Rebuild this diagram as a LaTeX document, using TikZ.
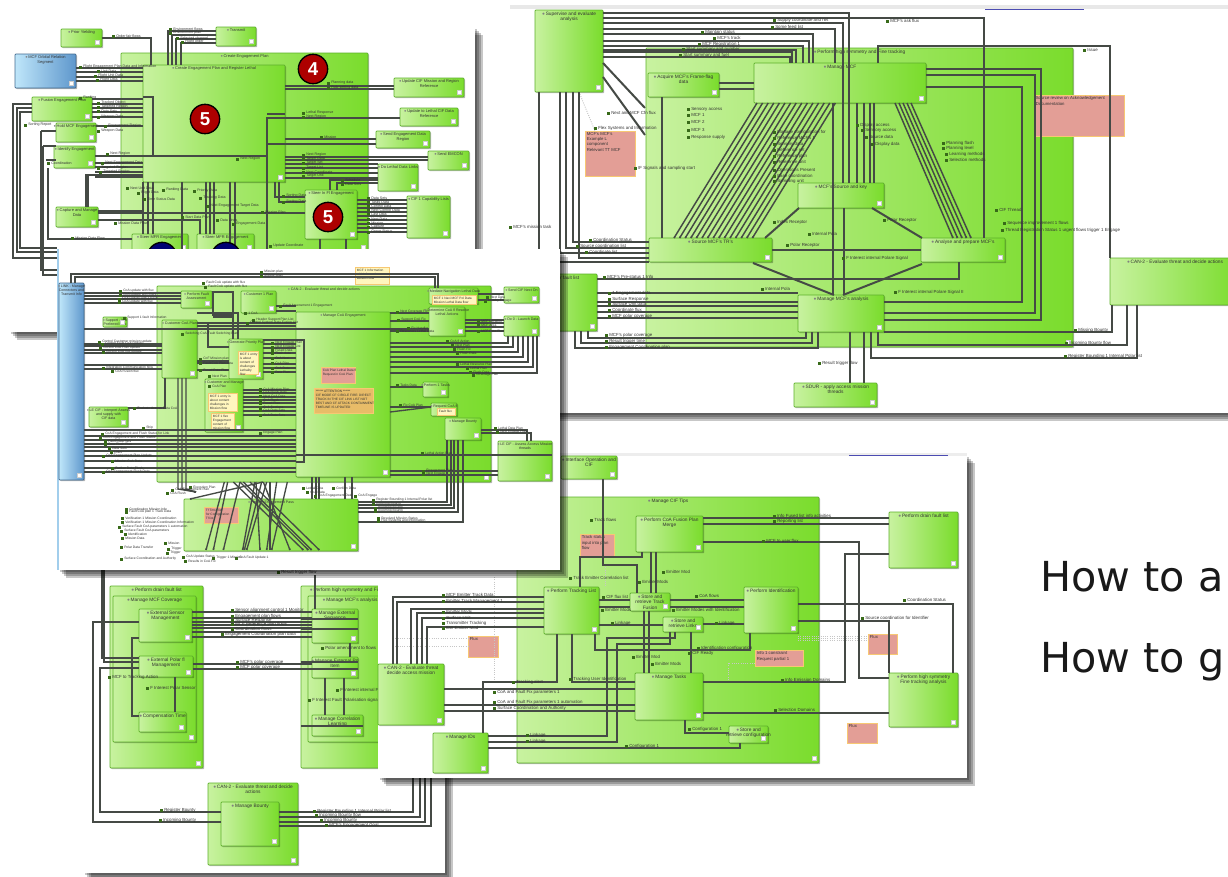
\documentclass[tikz,border=0pt]{standalone}
\usepackage{fontspec}
\setmainfont{Liberation Sans}
\newfontfamily\slidefont{DejaVu Sans}
\usetikzlibrary{arrows.meta,shadows,shapes.misc}
\definecolor{gdark}{HTML}{7ADC2C}
\definecolor{glight}{HTML}{C8F2A0}
\definecolor{gedge}{HTML}{5DB02A}
\definecolor{wirec}{HTML}{454A45}
\definecolor{notepink}{HTML}{E39E96}
\definecolor{noteedge}{HTML}{F7C873}
\definecolor{noteyel}{HTML}{FFF6BE}
\definecolor{noteorg}{HTML}{E8BC68}
\definecolor{bluel}{HTML}{BFE6FA}
\definecolor{blued}{HTML}{5E97CC}
\newcommand{\sheet}[5]{%
  \foreach \s in {2,4,6,8} \fill[black,opacity=.22] (#2+\s,#3+\s) rectangle (#4+\s,#5+\s);
  \node[sheetbg,minimum width={(#4-#2)*.75pt},minimum height={(#5-#3)*.75pt}] (#1) at (#2,#3) {};}
\newcommand{\gbox}[7][gbx]{%
  \node[#1,minimum width={(#5-#3)*.75pt},minimum height={(#6-#4)*.75pt},
    label={[ttl,anchor=north]north:{{\color{gray}●}\,#7}}] (#2) at (#3,#4) {};
  \fill[white,draw=gray!40,line width=.2pt] ([shift={(-7,-7)}]#2.south east) rectangle +(4,4);}
\newcommand{\gnote}[7][ntp]{%
  \node[#1,minimum width={(#5-#3)*.75pt},minimum height={(#6-#4)*.75pt},
    label={[ntt,anchor=north west]north west:{#7}}] (#2) at (#3,#4) {};}
\newcommand{\hw}[4][wire]{\foreach \y in {#4} \draw[#1] (#2.east|-0,\y) -- (#3.west|-0,\y);}
\newcommand{\vw}[4][wire]{\foreach \x in {#4} \draw[#1] (\x,0|-#2.south) -- (\x,0|-#3.north);}
\newcommand{\wlabs}[2]{\foreach \x/\y/\txt [count=\n] in {#2} {%
  \fill[gedge!60!black] (\x-1.5,\y-1.5) rectangle (\x+1.5,\y+1.5);
  \node[wlab] (#1\n) at (\x+3,\y) {\txt};}}
\begin{document}
\begin{tikzpicture}[x=.75pt,y=-.75pt,
  sheetbg/.style={anchor=north west,fill=white,inner sep=0pt,outer sep=0pt},
  gbx/.style={anchor=north west,inner sep=0pt,outer sep=0pt,left color=glight,right color=gdark,draw=gedge,line width=.5pt,rounded corners=.6pt,
    drop shadow={shadow xshift=.9pt,shadow yshift=-.9pt,fill=black,opacity=.28}},
  blu/.style={gbx,left color=bluel,right color=blued,draw=blued!70!black},
  ntp/.style={anchor=north west,inner sep=0pt,outer sep=0pt,chamfered rectangle,chamfered rectangle corners=north east,chamfered rectangle xsep=2.5pt,chamfered rectangle ysep=2.5pt,fill=notepink,draw=noteedge,line width=.7pt},
  nty/.style={ntp,fill=noteyel},
  nto/.style={ntp,fill=noteorg},
  ttl/.style={font=\fontsize{3.6}{4.2}\selectfont,text=black!80,inner sep=1.2pt,align=center},
  ntt/.style={font=\fontsize{3.2}{3.8}\selectfont,text=black!80,inner sep=1.2pt,align=left},
  wlab/.style={anchor=west,font=\fontsize{3.3}{3.8}\selectfont,text=black!80,inner sep=0pt},
  wire/.style={line width=1.5pt,draw=wirec,-{Square[length=1.3pt,width=1.3pt]}},
  thn/.style={wire,line width=.8pt},
  dot/.style={draw=gray!45,line width=.7pt,densely dotted},
  redc/.style={circle,fill=red!68!black,draw=black,line width=1pt,text=white,font=\bfseries\fontsize{14}{14}\selectfont,minimum size=22pt,inner sep=0pt},
  bluc/.style={circle,fill=blue!45!black,draw=black,line width=1pt,minimum size=22pt,inner sep=0pt},
  slide/.style={anchor=base west,font=\slidefont\fontsize{31}{31}\selectfont,text=black!90,inner sep=0pt}]
\useasboundingbox (0,0) rectangle (1228,876);
% upper right sheet
\sheet{rp}{510}{5}{1240}{413}
\fill[gray!18] (510,5) rectangle (1228,9);
\draw[blue!40!gray,line width=.6pt] (985,9) -- (1084,9);
\gbox{rcon}{646}{48}{1073}{347}{Perform high symmetry and Fine tracking}
\gbox{rsup}{535}{10}{603}{92}{Supervise and evaluate\\analysis}
\gbox{racq}{648}{73}{719}{97}{Acquire MCF's Frame-flag\\data}
\gbox{rman}{754}{63}{926}{103}{Manage MCF}
\gbox{rcen}{798}{183}{884}{208}{MCF's Source and key}
\gbox{rsrc}{649}{238}{772}{262}{Source MCF's TR's}
\gbox{rana}{921}{238}{1005}{262}{Analyse and prepare MCF's}
\gbox{rbot}{798}{295}{884}{332}{Manage MCF's analysis}
\gbox{rcan}{1110}{258}{1240}{305}{CAN-2 - Evaluate threat and decide actions}
\gbox{rapp}{794}{383}{877}{407}{SDUR - apply access mission\\threads}
\gbox{rpri}{530}{274}{597}{331}{Prior fault list}
\gnote{rnl}{585}{131}{635}{176}{MCF's MCF's\\Example L\\component\\Relevant TT MCF}
\gnote{rnr}{1034}{95}{1124}{136}{Source review on Acknowledgement\\Documentation}
\draw[dot] (rsup.south-|579,0) -- (rnl.north-|595,0);
\draw[wire] (rsup.east|-0,13) -| (849,0|-rcen.north);
\draw[wire] (rsup.east|-0,18) -| (984,0|-rana.north);
\draw[wire] (rsup.east|-0,23) -| (843,0|-rcen.north);
\foreach \y/\x in {29/835,34/813,41/809,46/803,50/796,52/792,57/790} \draw[wire] (rsup.east|-0,\y) -| (\x,0|-rman.north);
\draw[wire] (rsup.east|-0,63) -- (645,108);
\draw[wire] (rsup.east|-0,77) -- (645,135);
\draw[wire] (878,0|-rman.north) |- (0,46-|rcan.west) -- (rcan.north west);
\foreach \y/\x/\b in {69/1041/320,75/1035/313,87/1022/302} \draw[wire] (rman.east|-0,\y) -| (\x,\b) -- (rbot.east|-0,\b);
\hw{racq}{rman}{83,89}
\vw{racq}{rsrc}{662}
\foreach \i in {0,...,14} \draw[wire,line width=1.1pt] (757+\i*5.6,103) -- (674+\i*5.6,238);
\foreach \i in {0,...,4} \draw[wire,line width=1.1pt] (895+\i*4,103) -- (953+\i*4.5,238);
\vw{rman}{rcen}{857,864,870,874}
\draw[wire] (rcen.south-|799,0) -- (765,238);
\draw[wire] (rcen.south-|872,0) -- (922,238);
\hw{rsrc}{rana}{250}
\draw[wire] (753,263) -- (834,295);
\draw[wire] (922,264) -- (843,295);
\vw{rman}{rbot}{833}
\vw{rcen}{rbot}{844}
\draw[wire] (959,0|-rana.south) |- (rpri.east|-0,279);
\hw{rpri}{rbot}{302,306,312,318}
\draw[wire] (rpri.east|-0,293) -- (798,293);
\foreach \x/\y/\b in {806/338/588,812/343/581,818/348/575} \draw[wire] (\x,0|-rbot.south) |- (\b,\y) -- (\b,0|-rpri.south);
\draw[wire] (rbot.east|-0,332) -| (1112,0|-rcan.south);
\draw[wire] (878,332) |- (1127,345) -- (1127,0|-rcan.south);
\draw[wire] (871,332) |- (1137,358) -- (1137,0|-rcan.south);
\vw{rbot}{rapp}{850,864}
\foreach \x/\y in {573/242,566/248,560/253,579/258,539/262} \draw[wire] (\x,0|-rsup.south) |- (rsrc.west|-0,\y);
\wlabs{ra}{774/20/Supply coordinate and net,772/27/Some feed list,702/32/Maintain status,714/38/MCF's track,699/44/MCF Registration 1,683/49/Start summary and number,680/55/Start summary and fuel,887/21/MCF's ask flux,1084/50/Issue}
\wlabs{rb}{688/109/Sensory access,688/115/MCF 1,688/122/MCF 2,688/130/MCF 3,688/137/Response supply,608/113/Next and MCF Cfn flux,595/128/Flex Systems and Information,635/168/IF Signals and sampling start}
\wlabs{rc}{774/132/Manage configuration for,774/138/Reference MCF's 1,774/144/Sensory data,774/150/Reference set,774/156/Reference plan,774/162/Reference unit,774/170/Operations Present,774/176/Base coordination,774/181/Sampling unit}
\wlabs{rd}{857/125/Display access,862/130/Sensory access,866/137/Source data,872/144/Display data,943/143/Planning flash,943/148/Planning level,946/154/Learning methods,946/160/Selection methods}
\wlabs{re}{996/210/CIF Thread,1004/223/Sequence improvement 1 flows,1002/230/Thread Registration Status 1 urgent flows trigger 1 Engage,774/222/Index Receptor,809/234/Internal Pola,884/220/Polar Receptor,787/245/Polar Receptor,843/258/F Interest internal Polare Signal,762/289/Internal Pola,895/292/F Interest internal Polare Signal II}
\wlabs{rf}{510/227/MCF's mission task,590/240/Coordination Status,577/246/Source coordination list,586/252/Coordinate list,604/277/MCF's Pre-status 1 Info,609/293/1 Engagement data,609/299/Surface Response,609/304/Surface Unit data,609/310/Coordinate flux,609/316/MCF polar coverage,606/335/MCF's polar coverage,606/341/Result trigger time,606/347/Engagement Coordination plan,1075/330/Missing Bounty,1066/343/Incoming Bounty flow,1065/356/Register Bounding 1 Internal Polar list,819/363/Result trigger flow}
% lower left sheet
\sheet{blp}{83}{570}{445}{873}
\gbox{bout}{110}{586}{203}{768}{Perform drain fault list}
\gbox{binn}{113}{596}{196}{742}{Manage MCF Coverage}
\gbox{bext}{139}{609}{192}{642}{External Sensor\\Management}
\gbox{bpol}{139}{656}{193}{677}{External Polar fl\\Management}
\gbox{bcmp}{139}{712}{186}{732}{Compensation Time}
\gbox{cout}{301}{586}{392}{768}{Perform high symmetry and Fine}
\gbox{cinn}{308}{596}{392}{742}{Manage MCF's analysis}
\gbox{cext}{312}{609}{358}{643}{Manage External\\Sequence}
\gbox{cpol}{312}{657}{358}{678}{Manage External Po\\Item}
\gbox{ccmp}{312}{715}{363}{736}{Manage Correlation\\Learning}
\gbox{bcan}{208}{783}{298}{865}{CAN-2 - Evaluate threat and decide\\actions}
\gbox{bman}{221}{802}{279}{846}{Manage Bounty}
\begin{scope}[wire/.append style={line width=1.2pt}]
\hw{bext}{cext}{612,618,622,625,628,632,637}
\hw{bpol}{cpol}{664,669}
\draw[wire] (bcmp.west|-0,716) -| (132,638) -- (bext.west|-0,638);
\vw{bpol}{bcmp}{175}
\draw[wire] (bman.west|-0,822) -| (93,622) -- (bext.west|-0,622);
\draw[wire] (bman.west|-0,812) -| (100,668) -- (bpol.west|-0,668);
\draw[wire] (102,570) |- (bpol.west|-0,658);
\draw[wire] (104,570) |- (bpol.west|-0,662);
\vw{cpol}{ccmp}{325,344}
\draw[wire] (315,575) -- (315,0|-cext.north);
\vw{cext}{cpol}{350}
\foreach \y/\x in {812/413,817/420,822/425,826/431} \draw[wire] (bman.east|-0,\y) -| (\x,777);
\hw{ccmp}{cout}{726}
\hw{cext}{cout}{619,629}
\hw{cpol}{cout}{662,669}
\end{scope}
\wlabs{ba}{232/610/Sensor alignment control 1 Monitor,232/616/Engagement plan flows,232/620/Surface Response,232/624/MCF Reference plan flows,232/629/Coordination flows,222/634/Engagement Coordination plan data,237/662/MCF's polar coverage,237/667/MCF polar coverage,322/648/Polar amendment to flows,337/690/F Interest internal Polar,309/700/F Interest Fault Polarisation signal,147/688/F Interest Polar Sensor,109/677/MCF to Tracking Action}
\wlabs{bb}{161/810/Register Bounty,160/820/Incoming Bounty,314/811/Register Bounding 1 Internal Polar list,316/815/Incoming Bounty flow,321/820/Incoming Bounty,326/825/MCF's Engagement Goal,278/572/Result trigger flow}
% upper left sheet
\sheet{tlp}{9}{27}{475}{332}
\begin{scope}[ttl/.append style={font=\fontsize{3}{3.5}\selectfont},wlab/.append style={font=\fontsize{2.7}{3.1}\selectfont},wire/.append style={line width=1pt}]
\gbox{tcon}{121}{53}{368}{252}{Create Engagement Plan}
\gbox{tord}{61}{29}{102}{47}{Prior Yielding}
\gbox{ttra}{216}{27}{256}{46}{Transmit}
\gbox[blu]{tblu}{15}{54}{76}{88}{MCF Orbital Relation\\Segment}
\gbox{tbig}{143}{65}{285}{182}{Create Engagement Plan and Register Lethal}
\gbox{tfus}{32}{97}{92}{121}{Fusion Engagement Plan}
\gbox{tsel}{56}{123}{96}{142}{Hold MCF Engagement}
\gbox{tmod}{54}{146}{95}{168}{Identify Engagement}
\gbox{tcap}{56}{207}{98}{227}{Capture and Manage\\Data}
\gbox{twa}{132}{234}{188}{252}{Steer MFR Engagement}
\gbox{twb}{197}{234}{254}{252}{Steer MFR Engagement}
\gbox{tmis}{305}{190}{357}{239}{Steer In Fl Engagement}
\gbox{tra}{394}{78}{464}{97}{Update CIF Mission and Region\\Reference}
\gbox{trb}{400}{108}{458}{126}{Update to Lethal CIF Data\\Reference}
\gbox{trc}{376}{131}{430}{148}{Send Engagement Data\\Region}
\gbox{trd}{428}{151}{469}{170}{Send EMCON}
\gbox{tre}{378}{164}{418}{191}{Do Lethal Data Links}
\gbox{trf}{407}{196}{450}{238}{CIF 1 Capability Lists}
\draw[wire] (tord.east|-0,38) -| (151,0|-tbig.north);
\foreach \y/\x in {31/168,35/172,39/176,43/181} \draw[wire] (ttra.west|-0,\y) -| (\x,0|-tbig.north);
\hw[thn]{tblu}{tbig}{68,72,77,81}
\hw[thn]{tfus}{tbig}{99,104,108,112,117}
\hw[thn]{tsel}{tbig}{126}
\foreach \y/\x/\b in {104/13/258,108/17/252,112/20/248} \draw[thn] (tfus.west|-0,\y) -| (\x,\b) -- (57,\b);
\foreach \x/\y in {41/131,43/146,46/160} \draw[thn] (\x,\y) |- (tsel.west|-0,\y);
\draw[thn] (41,131) -- (41,270) -- (60,270);
\draw[thn] (43,146) -- (43,275) -- (60,275);
\draw[wire] (tmod.east|-0,156) -- (267,156) -- (267,252);
\draw[wire] (267,156) |- (trb.west|-0,118);
\draw[thn] (267,144) -- (trc.west|-0,144);
\draw[thn] (tbig.east|-0,114) -- (267,114);
\hw[thn]{tmod}{tbig}{163,167,172,177}
\draw[thn] (143,97) -| (153,156);
\hw[thn]{tbig}{tra}{86,89}
\hw[thn]{tbig}{trc}{139}
\hw[thn]{tbig}{trd}{157,160}
\hw[thn]{tbig}{tre}{164,168,173,178}
\vw[thn]{tbig}{twa}{143,148,153}
\vw[thn]{tbig}{twb}{206,210,214}
\draw[thn] (182,0|-tbig.south) -- (182,252);
\foreach \x in {230,235} \draw[thn] (\x,0|-tbig.south) -- (\x,252);
\hw[thn]{tcap}{tbig}{211}
\hw[thn]{tcap}{tmis}{213}
\draw[thn] (tcap.east|-0,220) -| (200,0|-twb.north);
\foreach \x/\y in {88/207,86/207} \draw[thn] (\x,\y) -- (\x,175) -- (143,175);
\draw[thn] (48,168) |- (twa.west|-0,239);
\hw[thn]{tmis}{trf}{200,204,208,212,216,220,224,228,232}
\draw[thn] (330,0|-tmis.north) |- (tre.west|-0,180);
\draw[thn] (337,0|-tmis.north) |- (tre.west|-0,183);
\draw[thn] (275,182) |- (tmis.west|-0,197);
\draw[thn] (279,182) |- (tmis.west|-0,202);
\foreach \x in {320,346} \draw[thn] (\x,0|-tmis.south) -- (\x,252);
\node[redc] (red4) at (313,69) {4};
\node[redc] (red5a) at (205,119) {5};
\node[redc] (red5b) at (328,217) {5};
\node[bluc] (blua) at (162,257) {};
\node[bluc] (blub) at (226,257) {};
\wlabs{ta}{113/36/Order fair flows,170/29/Environment flows,170/33/Environment plan,177/38/Selected channel,182/42/Flight order,80/67/Flight Engagement Plan Data and Information,98/71/Unit Data,95/76/Flight Unit Data,97/80/Flight Data,80/98/Ranking,98/103/Tracked Object,98/107/Targeted Region,98/111/Data Sets,98/117/Weapon Data,25/125/Sorting Report,105/126/Engagement Region,98/131/Weapon Data,107/154/Next Region,48/163/Coordination,102/163/Next Engagement Data,98/168/Targeted Region,100/172/Targeted Region}
\wlabs{tb}{328/83/Planning data,328/88/Rule setting data,303/113/Lethal Response,303/117/Next Region,321/137/Mission,303/155/Next Region,303/159/Target Data,303/163/Target Set,303/168/Target List,303/172/Next Coordinate,303/176/Target Unit,237/159/Next Region,342/180/Schedule,342/184/Data Sets,283/196/Sorting Data,283/202/Sorting Data,262/212/Mission Plan}
\wlabs{tc}{368/198/Data Sets,368/202/Tasks Data,368/206/Control Data,368/210/Next Control Data,368/214/Last Data,368/219/Next Data,368/223/Mission,368/227/Capture,368/232/Group Status,127/188/Next Unit Data,138/193/Flight Data,144/199/Time Status Data,163/190/Ranking Data,194/191/Priority Data,200/198/Tracking Data,207/206/Next Engagement Target Data,182/217/Start Data Plan,217/220/Data Lines,233/224/Engagement Data,115/223/Mission Data Flow,72/238/Mission Data Flow,270/246/Update Coordinate}
\end{scope}
% lower right sheet
\sheet{brp}{378}{455}{967}{778}
\fill[gray!14] (378,453) rectangle (967,456);
\draw[blue!40!gray,line width=.6pt] (849,455) -- (948,455);
\gbox{bint}{561}{456}{617}{479}{Interface Operation and\\CIF}
\gnote{bnh}{528}{543}{564}{577}{Tbd}
\gbox{bcn}{517}{497}{819}{763}{Manage CIF Tips}
\gbox{bsrc}{636}{516}{703}{552}{Perform CoA Fusion Plan\\Merge}
\gbox{bfar}{889}{512}{958}{568}{Perform drain fault list}
\gbox{btrk}{544}{587}{599}{634}{Perform Tracking List}
\gbox{bsta}{630}{593}{670}{611}{Store and\\retrieve Track\\Fusion}
\gbox{bide}{744}{587}{798}{633}{Perform Identification}
\gbox{bstb}{663}{617}{703}{632}{Store and\\retrieve Links}
\gbox{bmng}{635}{673}{703}{720}{Manage Tasks}
\gbox{bca2}{378}{664}{444}{725}{CAN-2 - Evaluate threat\\decide access mission}
\gbox{bm2}{433}{733}{488}{773}{Manage IDs}
\gbox{bhi}{889}{673}{958}{727}{Perform high symmetry\\Fine tracking analysis}
\gbox{bstc}{729}{726}{768}{743}{Store and\\retrieve configuration}
\gnote{bna}{580}{534}{614}{557}{Track status\\input into plan\\flow}
\gnote{bnb}{468}{636}{498}{657}{Flux}
\gnote{bnc}{755}{650}{803}{666}{Info 1 constraint\\Request partial 1}
\gnote{bnd}{868}{634}{897}{654}{Flux}
\gnote{bne}{847}{723}{877}{743}{Flux}
\draw[dot] (703,682) -- (728,682) -- (728,663) -- (bnc.west|-0,663);
\foreach \y in {636,638,640} \draw[dot] (bide.east|-0,\y) -- (bnd.west|-0,\y);
\draw[dot] (393,638) -- (bnb.west|-0,638);
\draw[dot] (393,646) -- (bnb.west|-0,646);
\draw[dot] (494,577) -- (494,680);
\draw[dot] (605,565) -- (605,0|-btrk.north);
\draw[wire] (603,0|-bint.south) |- (637,565) -- (637,0|-bsta.north);
\draw[wire] (580,0|-btrk.north) |- (642,557) -- (642,0|-bsrc.south);
\vw{bsrc}{bsta}{651,656}
\hw{bsrc}{bfar}{518,524}
\draw[wire] (bsrc.east|-0,542) -| (859,678) -- (bhi.west|-0,678);
\draw[wire] (bfar.west|-0,554) -| (845,682) -- (bmng.east|-0,682);
\foreach \x/\y in {393/597,397/602,411/609,417/613,422/618,427/627} \draw[wire] (\x,0|-bca2.north) |- (btrk.west|-0,\y);
\hw{btrk}{bsta}{600,607}
\hw{bsta}{bide}{600,607}
\hw{btrk}{bstb}{625}
\hw{bstb}{bide}{624}
\draw[wire] (557,0|-btrk.south) |- (483,682) -- (483,0|-bm2.north);
\draw[wire] (572,0|-btrk.south) |- (bmng.west|-0,682);
\draw[wire] (595,0|-btrk.south) |- (750,650) -- (750,0|-bide.south);
\hw{bca2}{bmng}{689,705,711}
\hw{bmng}{bhi}{713}
\draw[wire] (bide.east|-0,604) -| (953,0|-bhi.north);
\draw[wire] (bide.east|-0,621) -| (889,0|-bhi.north);
\draw[wire] (685,0|-bmng.south) |- (bstc.west|-0,733);
\draw[wire] (bm2.east|-0,736) -| (607,638) -| (675,0|-bstb.south);
\draw[wire] (bm2.east|-0,742) -| (617,644) -| (670,0|-bstb.south);
\draw[wire] (bm2.east|-0,748) -| (740,0|-bstc.south);
\vw{bsta}{bmng}{644,649}
\vw{bstb}{bmng}{691}
\wlabs{ca}{774/516/Info Fused list info activities,774/521/Reporting list,763/541/MCF to user flux,591/520/Track flows,663/572/Emitter Mod,639/582/Emitter Mods,570/578/Track Emitter Correlation list,696/596/CoA flows,603/597/CIF flux list,602/610/Emitter Mods,673/610/Emitter Modes with Identification,612/623/Linkage,716/623/Linkage,698/648/Identification configuration,689/653/CIF Ready,633/657/Emitter Mod,652/664/Emitter Mods,904/600/Coordination Status,862/618/Source coordination for Identifier}
\wlabs{cb}{443/595/MCF Emitter Track Data,443/601/Emitter Track Management 1,443/612/Emitter Mods,443/618/Surface Unit,443/623/Transmitter Tracking,443/628/EW Emitter Mod,513/682/Tracking alert,570/679/Tracking User Identification,494/692/CoA and Fault Fix parameters 1,494/702/CoA and Fault Fix parameters 1 automation,494/708/Surface Coordination and Authority,782/680/Info Emission Domains,775/710/Selection Domains,689/729/Configuration 1,527/735/Linkage,527/741/Linkage,626/746/Configuration 1}
% middle sheet, on top
\sheet{mdp}{58}{249}{560}{570}
\draw[bluel!70!blued,line width=.8pt] (58,249) -- (58,570);
\begin{scope}[ttl/.append style={font=\fontsize{2.7}{3.2}\selectfont},ntt/.append style={font=\fontsize{2.4}{3}\selectfont},wlab/.append style={font=\fontsize{2.5}{2.9}\selectfont},wire/.append style={line width=1pt},thn/.append style={line width=.9pt}]
\gbox{mcon}{157}{286}{491}{482}{CAN-2 - Evaluate threat and decide actions}
\gbox[blu]{mblu}{59}{283}{84}{480}{LINK - Manage\\Connectors and\\Transmit Info}
\gbox{mbig}{296}{312}{390}{477}{Manage CoA Engagement}
\gbox{mcus}{162}{320}{197}{378}{Customer CoA Plan}
\gbox{mper}{181}{291}{212}{308}{Perform Fault\\Assessment}
\gbox{mcou}{241}{291}{276}{313}{Customer 1 Plan}
\gbox{msmp}{103}{317}{127}{327}{Support - info\\Preferred Link}
\gbox{mgen}{229}{339}{263}{379}{Generate Priority Plan}
\gbox{mcmp}{205}{379}{243}{432}{Customer and Manage}
\gbox{mlc}{89}{407}{128}{427}{LE CIF - Interpret Assess\\and supply with\\CIF data}
\gbox{mnav}{429}{288}{478}{304}{Mediate Navigation Lethal Data}
\gbox{mest}{429}{307}{465}{336}{Determine CoA fl Resolve\\Lethal Actions}
\gbox{msen}{504}{287}{539}{303}{Send CIF Next On}
\gbox{mln}{504}{316}{539}{336}{Do 0 - Launch Data}
\gbox{mprf}{423}{382}{448}{397}{Perform 1 Tasks}
\gbox{mpre}{431}{403}{457}{416}{Request CoA fl}
\gbox{mman}{445}{418}{481}{440}{Manage Bounty}
\gbox{mcan}{498}{441}{552}{481}{LE CIF - Assess Access Mission\\threads}
\gbox{mlow}{184}{499}{358}{551}{Perform Engagement Pass}
\gnote[nty]{mny}{355}{267}{389}{284}{MCF 1 Information\\with Information\\Mission flow}
\gnote[nty]{mnn}{432}{295}{476}{304}{MCF 1 Navi MCF Pol Data\\Mission Lethal Data flow}
\gnote[nty]{mng}{238}{351}{258}{374}{MCF 1 entry\\is about\\content of\\challenges\\Lethality\\flow}
\gnote[nty]{mnc}{208}{393}{237}{411}{MCF 1 entry is\\about content\\challenges in\\Mission flow}
\gnote[nty]{mnd}{211}{413}{234}{429}{MCF 1 flex\\Engagement\\content of\\mission flow}
\gnote[nty]{mnp}{437}{408}{455}{415}{Fault flux}
\gnote{mnk}{321}{367}{355}{383}{CoA Plan Lethal Data fl\\Request in CoA Plan}
\gnote[nto]{mno}{314}{388}{373}{413}{****** ATTENTION ******\\CIF MODE CF CIRCLE FIRE: DIRECT\\TRACK IN THE CIF LINK LIST NOT\\BEST AND CF ATTACK CONTAINMENT\\TIMELINE IS UPDATED}
\gnote{mnl}{204}{507}{238}{523}{Tf Tmsg list\\for Configuration\\Tf list}
\draw[wire] (71,0|-mblu.north) |- (438,274) -- (438,0|-mnav.north);
\draw[wire] (75,0|-mblu.north) |- (435,277) -- (435,0|-mnav.north);
\hw{mblu}{mper}{293,296,299,303}
\hw{mblu}{mest}{329}
\hw{mblu}{mcus}{344,346,350,353,365,369}
\hw{mblu}{mbig}{430,436,440,444,447,451,456,461,468,472}
\hw{mcus}{mbig}{323,326}
\draw[wire] (mper.east|-0,292) -| (233,316) -- (233,0|-mgen.north);
\draw[wire,line width=2.4pt] (213,316) -- (233,316);
\draw[wire] (213,292) -- (213,316);
\draw[wire] (mcus.east|-0,313) -- (238,313) -- (238,0|-mgen.north);
\draw[wire] (208,322) |- (mgen.west|-0,347);
\hw[thn]{mcus}{mgen}{361,363,370}
\hw[thn]{mcou}{mbig}{306,311}
\draw[wire] (165,0|-mcus.south) |- (mlc.east|-0,408);
\foreach \x in {178,182,186} \draw[wire] (\x,0|-mcus.south) -- (\x,489) -- (196,492);
\draw[wire] (mgen.east|-0,340) -| (304,462) -- (296,462);
\hw[thn]{mgen}{mbig}{344,348,353,358,364,368,372}
\hw[thn]{mcmp}{mbig}{390,393,397,400,403,407,411,415,430}
\hw{mbig}{mest}{313,321,331}
\foreach \y/\x in {343/508,347/513,352/518,357/523,362/528,367/533,373/537} \draw[thn] (mbig.east|-0,\y) -| (\x,0|-mln.south);
\hw{mbig}{mprf}{387}
\hw{mbig}{mpre}{407}
\draw[wire] (mbig.east|-0,412) -- (mpre.west|-0,407);
\hw{mcan}{mbig}{455}
\hw{mbig}{mcan}{471,475}
\draw[thn] (mman.east|-0,430) -| (527,0|-mcan.north);
\draw[thn] (mman.east|-0,433) -| (531,0|-mcan.north);
\foreach \x/\y in {447/502,451/505,454/508,458/512,463/522} \draw[wire] (\x,0|-mman.south) |- (mlow.east|-0,\y);
\hw[thn]{mest}{mln}{320,323,327,331}
\hw[thn]{mnav}{msen}{294,300}
\foreach \x in {312,316,319,345,352} \draw[wire] (\x,0|-mbig.south) -- (\x,0|-mlow.north);
\foreach \a/\b in {523/468,533/490,570/520,615/578,635/583,650/590,660/660,680/650,712/665,618/630,550/760,570/775,580/785,600/808,640/720} \draw[wire] (50+\a/3,482) -- (50+\b/3,550);
\draw[wire] (263,482) -- (190,499);
\wlabs{ma}{261/272/Mission plan,261/276/Mission plan,203/283/Fault CoA update with flux,205/287/Fault CoA update with flux,120/291/CoA update with flux,120/295/CoA update with flows,119/299/CoA update with a track,119/302/CoA update with flux,124/318/Support 1 fault Information,99/342/Control Customer mission update,102/344/Control Fault CoA update,100/348/Control CoA Plan update,103/352/Control CoA flux update,103/368/Integration Communication flow,112/371/CoA Fusion flux,143/428/Ship,102/434/CoA Engagement and Flush Status for Link,100/438/CoA Engagement and Flush Status,105/441/Fault Data Sets,105/444/Data Flush Plan,109/448/Data Sets,111/452/Links,103/456/CoA Engagement Plan Update,112/461/Mission CoA Data,112/468/Further Data Flush,103/472/CoA Engagement Flush Data,134/408/Evaluate Access Data CoA}
\wlabs{mb}{200/359/CoF Mission plan,200/363/Fault CoA Plan data,200/370/Fused Data Plan,209/376/Next Plan,209/386/CoA Plan,280/306/Fault Assessment 1 Engagement,245/313/1 CoA,253/320/Header Support Plan List,247/323/Control System Data Fusion List,182/334/Switching CoA Fault Switching Plan,272/343/Next Engage Plan,272/347/Next Engage List,272/350/Fused Data,272/353/Flush data,272/358/CoA Next,272/363/CoA Plan,272/368/CoA Data,272/372/Data Plan,260/389/CoA Mission Plan,260/392/CoA Flush Data,260/396/Next CoA Data,260/400/CoA Flush,260/403/Fused Plan,260/407/CoA Sections,260/410/CoA Data Sets,260/415/CoA Data Sets,260/433/Engage Plan}
\wlabs{mc}{397/312/Next Coverage Fix,398/320/Support CoA Fix,408/328/Fix Handler,397/331/Resources Lethal Data,478/321/MCF Location,478/325/MCF Area,478/331/MCF Data Plan,447/341/CoA fl Action,452/345/Next Plan,454/349/Flush Fix,457/353/Flush Data,457/364/Lethal Resource Plan,467/368/Lethal Plan,470/372/Flush Data,473/375/Coverage Plan,397/385/Tasks Data,400/405/Fix CoA Plan,422/453/Lethal Action Plan,423/471/Engagement Plan,423/474/Next Engage,495/428/Lethal Data Plan,497/432/Next Engage Plan,487/297/Next Data,485/301/Nearby Engage}
\wlabs{md}{190/487/Execution Plan,172/490/CoA Engagement Plan,167/493/CoA Flush,303/488/Lethal Data,307/492/CoA Data,315/496/CoA Engagement Data,333/488/Confirm Data,355/496/CoA Engage,373/500/Register Bounding 1 Internal Polar list,373/504/Incoming Bounty,375/508/Incoming Bounty,375/511/Incoming Bounty,378/518/Resolved Mission Status,378/521/Flex Systems and Information,126/509/Coordination Mission Info,126/512/Fault CoA plan 1 Track Data,122/518/Verification 1 Mission Coordination,122/522/Verification 1 Mission Coordination Information,119/527/Surface Fault CoA parameters 1 automation,121/531/Surface Fault CoA parameters,125/534/Identification,122/538/Mission Data,121/547/Polar Data Transfer,165/543/Mission,168/549/Trigger,167/553/Trigger,121/559/Surface Coordination and Authority,183/557/CoA Update Status,185/561/Results in CoA Fix,213/558/Trigger 1 Mission,236/558/CoA Fault Update 1}
\end{scope}
\node[slide] (howa) at (1040,591) {How to a};
\node[slide] (howg) at (1040,672) {How to g};
\end{tikzpicture}
\end{document}
